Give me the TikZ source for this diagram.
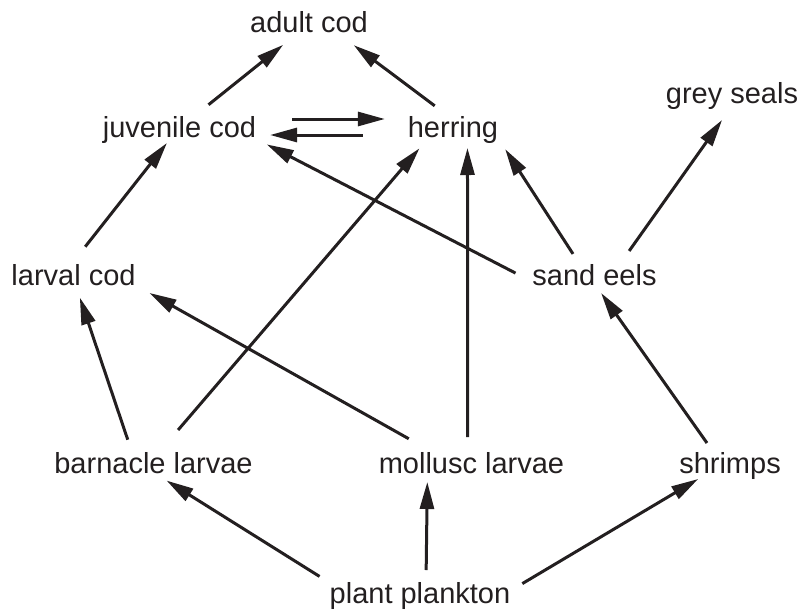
\documentclass[tikz,border=0pt]{standalone}
\usepackage{fontspec}
\setmainfont{Liberation Sans}
\usetikzlibrary{arrows.meta}
\definecolor{inkcolor}{RGB}{35,31,32}

\begin{document}
\begin{tikzpicture}[
    x=1pt, y=-1pt,
    species/.style={inner sep=0pt, outer sep=0pt, text height=21pt, text depth=6pt, font=\fontsize{29}{34}\selectfont, text=inkcolor},
    arrow/.style={-{Triangle[length=27pt, width=14pt]}, line width=3pt, draw=inkcolor}
]
    \useasboundingbox (0,0) rectangle (803,613);

    % Species
    \node[species] (adultcod) at (309,24.5) {adult cod};
    \node[species] (juvcod) at (179.5,129.5) {juvenile cod};
    \node[species] (herring) at (453,129.5) {herring};
    \node[species] (greyseals) at (732,95.5) {grey seals};
    \node[species] (larvalcod) at (73.5,277.5) {larval cod};
    \node[species] (sandeels) at (594.5,277.5) {sand eels};
    \node[species] (barnacle) at (153.5,465.5) {barnacle larvae};
    \node[species] (mollusc) at (471.5,465.5) {mollusc larvae};
    \node[species] (shrimps) at (730,465.5) {shrimps};
    \node[species] (plankton) at (420,595.5) {plant plankton};

    % Feeding links
    \draw[arrow, shorten <=18pt, shorten >=11pt] (juvcod.42) -- (adultcod.-142);
    \draw[arrow, shorten <=17pt, shorten >=12pt] (herring.109) -- (adultcod.-21);
    \draw[arrow, shorten <=36pt, shorten >=23pt] ([yshift=10.5pt]juvcod.east) -- ([yshift=10.5pt]herring.west);
    \draw[arrow, shorten <=45pt, shorten >=14pt] ([yshift=-5.5pt]herring.west) -- ([yshift=-5.5pt]juvcod.east);
    \draw[arrow, shorten <=22pt] (larvalcod.98) -- (juvcod.-133);
    \draw[arrow, shorten <=19pt, shorten >=12pt] (sandeels.-176) -- (juvcod.-7);
    \draw[arrow, shorten <=12pt, shorten >=13pt] (sandeels.138) -- (herring.-11);
    \draw[arrow, shorten <=16pt, shorten >=13.5pt] (sandeels.28) -- (greyseals.-99);
    \draw[arrow, shorten <=13pt, shorten >=7pt] (barnacle.148) -- (larvalcod.-73);
    \draw[arrow, shorten <=29pt, shorten >=7pt] (barnacle.67) -- (herring.-155);
    \draw[arrow, shorten <=27pt, shorten >=16pt] (mollusc.161) -- (larvalcod.-7);
    \draw[arrow, shorten <=15pt, shorten >=5pt] (mollusc.106) -- (herring.-43);
    \draw[arrow, shorten <=11pt, shorten >=2.5pt] (shrimps.141) -- (sandeels.-69);
    \draw[arrow, shorten <=12pt, shorten >=3pt] (plankton.172) -- (barnacle.-52);
    \draw[arrow, shorten <=12pt, shorten >=3pt] (plankton.66) -- (mollusc.-163);
    \draw[arrow, shorten <=14pt] (plankton.3) -- (shrimps.-157);
\end{tikzpicture}
\end{document}
